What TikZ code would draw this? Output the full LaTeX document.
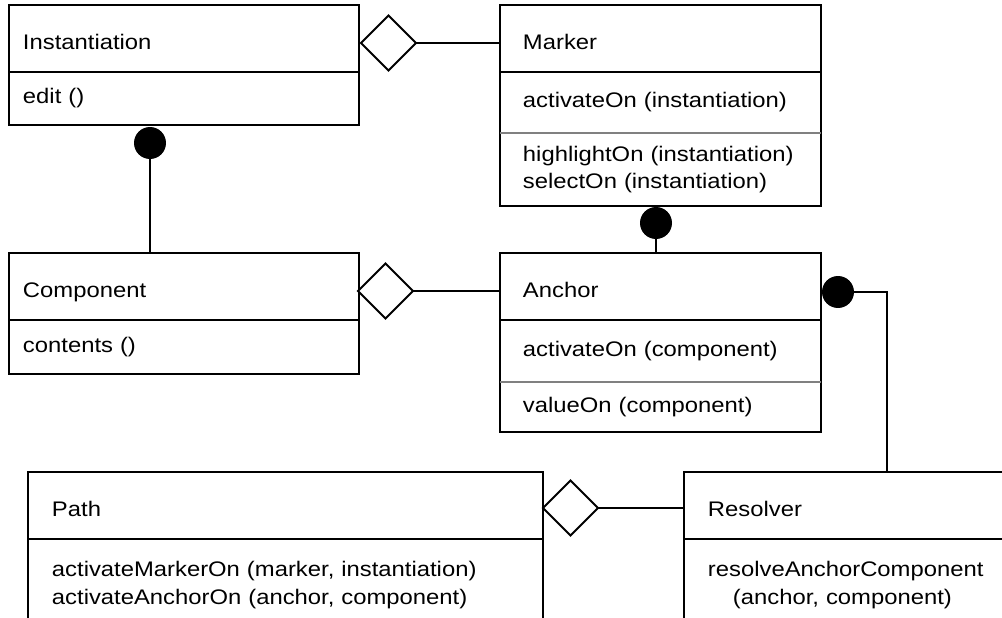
\documentclass[tikz,border=0pt]{standalone}
\usepackage{fontspec}
\setmainfont{Liberation Sans}[FakeStretch=1.13]
\usepackage{tikz}
\usetikzlibrary{positioning,shapes.geometric}
\usepackage{xcolor}
\definecolor{sepgray}{HTML}{808080}
\newcommand{\umlfont}{\fontsize{12}{15.6}\selectfont}

\begin{document}
\begin{tikzpicture}[
    x=0.02cm, y=-0.02cm,
    node distance=0pt,
    umlhead/.style={rectangle, draw, line width=1.1pt, outer sep=0pt, inner ysep=0pt,
                    text height=0.9cm, text depth=0.44cm, align=left, font=\umlfont},
    umlbody/.style={rectangle, draw, line width=1.1pt, outer sep=0pt, inner ysep=0pt,
                    align=left, font=\umlfont},
    narrow/.style={inner xsep=0.28cm, text width=6.44cm},
    medium/.style={inner xsep=0.46cm, text width=5.5cm},
    wide/.style={inner xsep=0.48cm, text width=9.34cm},
    agg/.style={diamond, draw, fill=white, line width=1.1pt, inner sep=0pt, outer sep=0pt,
                minimum width=1.1cm, minimum height=1.1cm},
    dot/.style={circle, fill=black, inner sep=0pt, outer sep=0pt, minimum size=0.64cm},
    link/.style={line width=1.1pt},
    sepline/.style={sepgray, line width=1.1pt},
]
  \clip (0,0) rectangle (1002,618);

  % classes
  \node[umlhead, narrow, anchor=north west] (inst) at (9,5) {Instantiation};
  \node[umlbody, narrow, minimum height=1.06cm, below=of inst] (instops) {edit ()};

  \node[umlhead, medium, anchor=north west] (mark) at (500,5) {Marker};
  \node[umlbody, medium, minimum height=1.22cm, below=of mark] (markact) {activateOn (instantiation)};
  \node[umlbody, medium, minimum height=1.46cm, below=of markact] (markops) {highlightOn (instantiation)\\selectOn (instantiation)};

  \node[umlhead, narrow, anchor=north west] (comp) at (9,253) {Component};
  \node[umlbody, narrow, minimum height=1.08cm, below=of comp] (compops) {contents ()};

  \node[umlhead, medium, anchor=north west] (anch) at (500,253) {Anchor};
  \node[umlbody, medium, minimum height=1.24cm, below=of anch] (anchact) {activateOn (component)};
  \node[umlbody, medium, minimum height=1.0cm, below=of anchact] (anchval) {valueOn (component)};

  \node[umlhead, wide, anchor=north west] (path) at (28,472) {Path};
  \node[umlbody, wide, minimum height=1.84cm, below=of path] (pathops) {activateMarkerOn (marker, instantiation)\\activateAnchorOn (anchor, component)};

  \node[umlhead, inner xsep=0.48cm, text width=7.04cm, anchor=north west] (res) at (684,472) {Resolver};
  \node[umlbody, inner xsep=0.48cm, text width=7.04cm, minimum height=1.84cm, below=of res] (resops) {resolveAnchorComponent\\\hspace*{0.5cm}(anchor, component)};

  \draw[sepline] (markops.north west) -- (markops.north east);
  \draw[sepline] (anchval.north west) -- (anchval.north east);

  % aggregations
  \node[agg, anchor=west] (instagg) at (361,43) {};
  \draw[link] (instagg.east) -- (instagg.east -| mark.west);
  \node[agg, anchor=west] (compagg) at (358,291) {};
  \draw[link] (compagg.east) -- (compagg.east -| anch.west);
  \node[agg, anchor=west] (pathagg) at (543,508) {};
  \draw[link] (pathagg.east) -- (pathagg.east -| res.west);

  % compositions
  \node[dot] (instdot) at (150,143) {};
  \draw[link] (instdot.south) -- (instdot.south |- comp.north);
  \node[dot] (markdot) at (656,223) {};
  \draw[link] (markdot.south) -- (markdot.south |- anch.north);
  \node[dot] (anchdot) at (838,292) {};
  \coordinate (resbend) at (887,292);
  \draw[link] (anchdot.east) -- (resbend) -- (resbend |- res.north);
\end{tikzpicture}
\end{document}
